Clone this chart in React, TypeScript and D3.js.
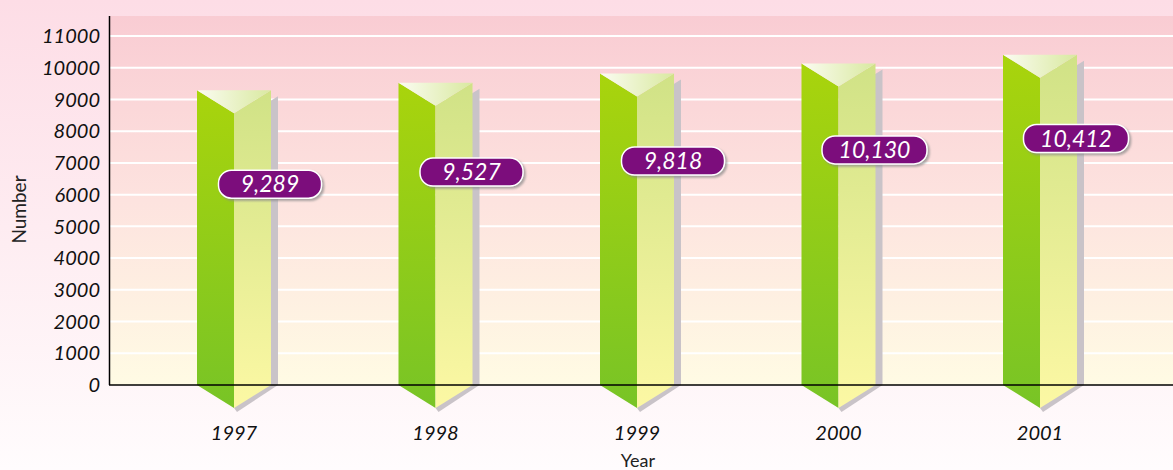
import * as d3 from 'd3';

const years = ['1997', '1998', '1999', '2000', '2001'];
const counts = [9289, 9527, 9818, 10130, 10412];
// where each value bubble sits, in axis units
const labelLevels = [6330, 6710, 7060, 7410, 7770];
const yTicks = [0, 1000, 2000, 3000, 4000, 5000, 6000, 7000, 8000, 9000, 10000, 11000];

const W = 1173;
const H = 470;
const plot = { left: 109, top: 16, right: 1173, bottom: 385 };
const FONT = 'Lato, "Open Sans", sans-serif';

export default function App() {
  const x = d3.scalePoint<string>().domain(years).range([234, 1040]);
  const y = d3.scaleLinear().domain([0, 11630]).range([plot.bottom, plot.top]);
  const half = 37;
  const depth = 23;
  const fmt = d3.format(',');

  const pts = (p: [number, number][]) => p.map((d) => d.join(',')).join(' ');

  return (
    <svg width={W} height={H} style={{ position: 'absolute', left: 0, top: 0 }}>
      <defs>
        <linearGradient id="page" x1="0" y1="0" x2="0" y2="1">
          <stop offset="0" stopColor="#fddde6" />
          <stop offset="1" stopColor="#fffcfd" />
        </linearGradient>
        <linearGradient id="plotbg" x1="0" y1="0" x2="0" y2="1">
          <stop offset="0" stopColor="#f9ccd3" />
          <stop offset="0.5" stopColor="#fde3df" />
          <stop offset="1" stopColor="#fffbe4" />
        </linearGradient>
        <linearGradient id="leftFace" x1="0" y1="0" x2="0" y2="1">
          <stop offset="0" stopColor="#a9d40c" />
          <stop offset="1" stopColor="#78c426" />
        </linearGradient>
        <linearGradient id="rightFace" x1="0" y1="0" x2="0" y2="1">
          <stop offset="0" stopColor="#d0e286" />
          <stop offset="1" stopColor="#fcf8a4" />
        </linearGradient>
        <linearGradient id="topFace" x1="0" y1="0" x2="1" y2="0">
          <stop offset="0" stopColor="#fbfcf2" />
          <stop offset="1" stopColor="#d9e9a0" />
        </linearGradient>
        <filter id="bubbleShadow" x="-10%" y="-20%" width="130%" height="160%">
          <feDropShadow dx="2" dy="2" stdDeviation="0.8" floodColor="#888" floodOpacity="0.7" />
        </filter>
      </defs>

      <rect x={0} y={0} width={W} height={H} fill="url(#page)" />
      <rect
        x={plot.left}
        y={plot.top}
        width={plot.right - plot.left}
        height={plot.bottom - plot.top}
        fill="url(#plotbg)"
      />

      {yTicks.slice(1).map((t) => (
        <line key={t} x1={plot.left} x2={plot.right} y1={y(t)} y2={y(t)} stroke="#fff" strokeWidth={2} />
      ))}

      {yTicks.map((t) => (
        <text
          key={t}
          x={100}
          y={y(t)}
          dy="0.36em"
          textAnchor="end"
          fontFamily={FONT}
          fontStyle="italic"
          fontSize={20}
          fill="#111"
        >
          {t}
        </text>
      ))}

      {years.map((yr, i) => {
        const cx = x(yr) ?? 0;
        const top = y(counts[i]);
        const base = y(0);
        const l = cx - half;
        const r = cx + half;
        const sdx = 7;
        const sdy = 6;
        return (
          <g key={yr}>
            <polygon
              points={pts([
                [cx + sdx, top + depth + sdy],
                [r + sdx, top + sdy],
                [r + sdx, base],
                [cx + 3, base + depth + 4],
                [cx, base + depth],
              ])}
              fill="#c9c3c8"
            />
            <polygon points={pts([[l, top], [cx, top + depth], [cx, base + depth], [l, base]])} fill="url(#leftFace)" />
            <polygon points={pts([[cx, top + depth], [r, top], [r, base], [cx, base + depth]])} fill="url(#rightFace)" />
            <polygon points={pts([[l, top], [r, top], [cx, top + depth]])} fill="url(#topFace)" />
          </g>
        );
      })}

      <line x1={plot.left + 0.5} x2={plot.left + 0.5} y1={plot.top} y2={plot.bottom} stroke="#000" strokeWidth={1.5} />
      <line x1={plot.left} x2={plot.right} y1={plot.bottom} y2={plot.bottom} stroke="#000" strokeWidth={1.5} />

      {years.map((yr, i) => {
        const cx = (x(yr) ?? 0) + half - 1;
        const cy = y(labelLevels[i]);
        const txt = fmt(counts[i]);
        const bw = txt.length > 5 ? 105 : 103;
        return (
          <g key={'lab' + yr}>
            <rect
              x={cx - bw / 2}
              y={cy - 14}
              width={bw}
              height={28}
              rx={13}
              fill="#7b077b"
              stroke="#fff"
              strokeWidth={1.5}
              filter="url(#bubbleShadow)"
            />
            <text
              x={cx}
              y={cy}
              dy="0.36em"
              textAnchor="middle"
              fontFamily={FONT}
              fontStyle="italic"
              fontSize={23}
              fill="#fff"
            >
              {txt}
            </text>
          </g>
        );
      })}

      {years.map((yr) => (
        <text
          key={'x' + yr}
          x={x(yr)}
          y={440}
          textAnchor="middle"
          fontFamily={FONT}
          fontStyle="italic"
          fontSize={20}
          fill="#111"
        >
          {yr}
        </text>
      ))}

      <text x={638} y={467} textAnchor="middle" fontFamily={FONT} fontSize={18} fill="#222">
        Year
      </text>
      <text
        transform={`translate(26,${(plot.top + plot.bottom) / 2 + 9}) rotate(-90)`}
        textAnchor="middle"
        fontFamily={FONT}
        fontSize={19}
        fill="#222"
      >
        Number
      </text>
    </svg>
  );
}
